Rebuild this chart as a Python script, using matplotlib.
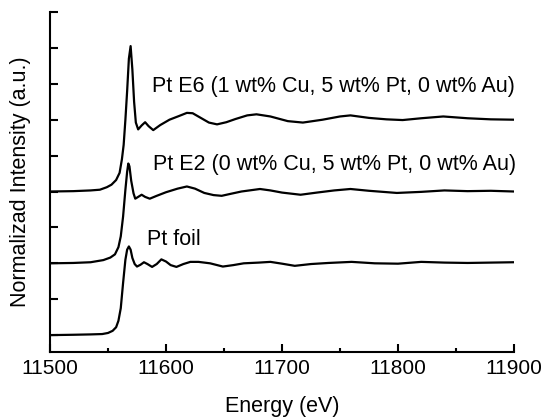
# -*- coding: utf-8 -*-

import matplotlib
matplotlib.use('Agg')
import matplotlib.pyplot as plt
from matplotlib.ticker import MultipleLocator

# Pt foil
foil_e = [11500, 11520, 11535, 11545, 11550, 11554, 11557, 11559, 11561, 11563,
          11565, 11566.5, 11568, 11569.5, 11571, 11573, 11575, 11578, 11581, 11584,
          11588, 11592, 11596, 11600, 11604, 11609, 11615, 11621, 11628, 11638,
          11649, 11658, 11667, 11680, 11690, 11700, 11711, 11725, 11740, 11760,
          11780, 11800, 11820, 11840, 11860, 11880, 11900]
foil_y = [0.0, 0.01, 0.02, 0.03, 0.06, 0.12, 0.22, 0.40, 0.75, 1.45,
          2.10, 2.38, 2.47, 2.38, 2.15, 1.98, 1.91, 1.96, 2.03, 1.98,
          1.90, 1.98, 2.11, 2.05, 1.95, 1.90, 1.98, 2.04, 2.04, 2.00,
          1.91, 1.95, 2.00, 2.02, 2.04, 1.99, 1.93, 1.98, 2.01, 2.04,
          2.00, 1.99, 2.04, 2.02, 2.01, 2.02, 2.03]

# Pt E2
e2_e = [11500, 11520, 11535, 11546, 11552, 11556, 11559, 11561, 11563, 11565,
        11566.5, 11567.5, 11568.5, 11570, 11572, 11573.5, 11576, 11579, 11582, 11586,
        11592, 11600, 11610, 11618, 11625, 11633, 11641, 11648, 11655, 11665,
        11681, 11690, 11700, 11716, 11730, 11745, 11759, 11775, 11799, 11820,
        11840, 11860, 11880, 11900]
e2_y = [2.0, 2.01, 2.03, 2.09, 2.16, 2.25, 2.45, 2.75, 3.3, 4.05,
        4.55, 4.78, 4.70, 4.30, 3.95, 3.80, 3.85, 3.91, 3.85, 3.80,
        3.88, 3.98, 4.08, 4.14, 4.08, 3.96, 3.90, 3.88, 3.93, 4.00,
        4.07, 4.03, 3.97, 3.91, 3.97, 4.03, 4.07, 4.02, 3.96, 3.99,
        4.03, 4.01, 4.02, 4.00]

# Pt E6
e6_e = [11500, 11520, 11535, 11543, 11549, 11553, 11557, 11560, 11562, 11563.5,
        11565, 11566.5, 11568, 11569.5, 11571, 11572.5, 11574, 11576, 11579, 11582,
        11585, 11589, 11595, 11603, 11611, 11618, 11623, 11630, 11637, 11644,
        11652, 11660, 11670, 11678, 11690, 11705, 11718, 11735, 11750, 11759,
        11775, 11790, 11804, 11820, 11839, 11860, 11880, 11900]
e6_y = [4.0, 4.01, 4.03, 4.05, 4.12, 4.19, 4.32, 4.52, 4.9, 5.3,
        6.0, 6.8, 7.7, 8.05, 7.4, 6.5, 5.92, 5.73, 5.84, 5.93,
        5.82, 5.71, 5.85, 6.0, 6.10, 6.19, 6.18, 6.05, 5.92, 5.87,
        5.93, 6.02, 6.12, 6.15, 6.09, 5.96, 5.92, 6.00, 6.09, 6.12,
        6.05, 6.01, 5.99, 6.04, 6.09, 6.04, 6.01, 6.00]

labels = ['Pt E6 (1 wt% Cu, 5 wt% Pt, 0 wt% Au)',
          'Pt E2 (0 wt% Cu, 5 wt% Pt, 0 wt% Au)',
          'Pt foil']

plt.rcParams['font.family'] = ['Liberation Sans', 'DejaVu Sans']

fig = plt.figure(figsize=(5.47, 4.19), dpi=100)
ax = fig.add_axes([0.0914, 0.1599, 0.8483, 0.8115])

for x, y in [(foil_e, foil_y), (e2_e, e2_y), (e6_e, e6_y)]:
    ax.plot(x, y, color='black', lw=1.6)

# ラベル
ax.text(11588, 6.93, labels[0], fontsize=15.5, va='center', ha='left')
ax.text(11589, 4.74, labels[1], fontsize=15.5, va='center', ha='left')
ax.text(11584, 2.65, labels[2], fontsize=15.5, va='center', ha='left')

ax.set_xlim(11500, 11900)
ax.set_ylim(-0.47, 9.0)
ax.xaxis.set_major_locator(MultipleLocator(100))
ax.xaxis.set_minor_locator(MultipleLocator(50))
ax.yaxis.set_major_locator(MultipleLocator(1))
ax.set_yticklabels([])

ax.spines['top'].set_visible(False)
ax.spines['right'].set_visible(False)
for s in ['left', 'bottom']:
    ax.spines[s].set_linewidth(1.5)

ax.tick_params(axis='both', which='major', direction='in', length=6, width=1.5,
               labelsize=15)
ax.tick_params(axis='x', which='minor', direction='in', length=3, width=1.5)
ax.tick_params(axis='x', pad=5)

ax.set_xlabel('Energy (eV)', fontsize=15.5, labelpad=13)
ax.set_ylabel('Normalizad Intensity (a.u.)', fontsize=15.5, labelpad=10)

fig.savefig('out.png', dpi=100)
